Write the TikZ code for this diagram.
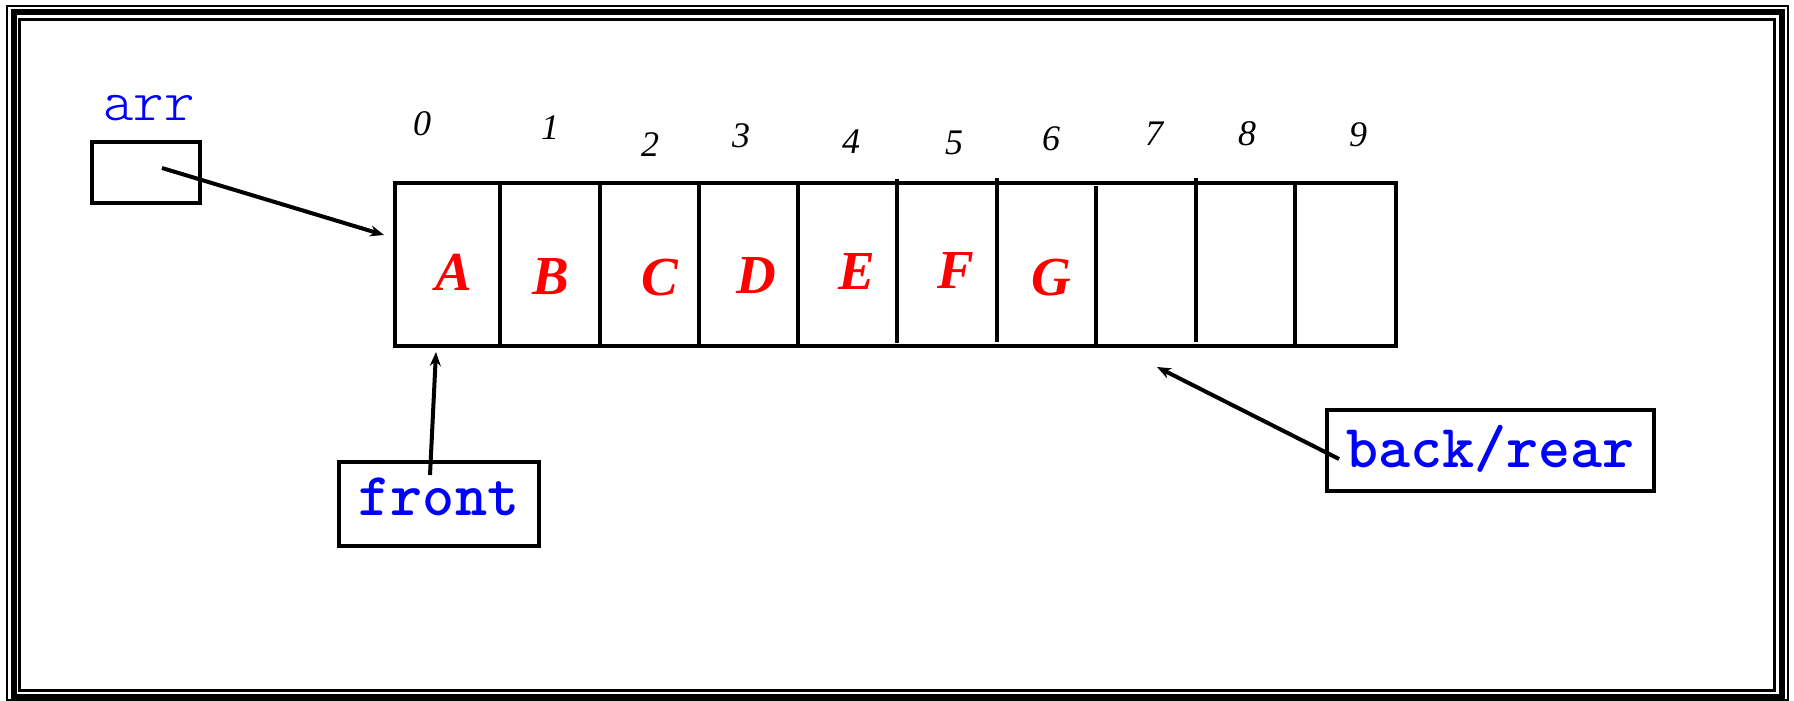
\documentclass[tikz,border=0pt]{standalone}
\usepackage{fontspec}
\newfontfamily\tnr{Liberation Serif}
\usetikzlibrary{arrows.meta}
\begin{document}
\begin{tikzpicture}[x=1pt,y=-1pt,
  box/.style={draw, line width=4pt, inner sep=0pt},
  idx/.style={font=\tnr\itshape\fontsize{36}{36}\selectfont, inner sep=0pt},
  letter/.style={font=\tnr\bfseries\itshape\fontsize{55}{55}\selectfont, text=red, inner sep=0pt},
  ptrlabel/.style={font=\ttfamily\bfseries\fontsize{61}{61}\selectfont, text=blue},
  ptr/.style={line width=4pt, -{Stealth[length=14pt,width=11pt]}},
  divider/.style={line width=3.5pt}]
\useasboundingbox (0,0) rectangle (1794,701);
% frame
\draw[line width=2pt] (7,6) rectangle (1788,700);
\draw[line width=6pt] (13.5,12) rectangle (1782,696.5);
\draw[line width=2.5pt] (19.5,19.5) rectangle (1774.5,690.5);
% arr pointer
\node (arrlabel) [anchor=base, font=\ttfamily\fontseries{l}\fontsize{58}{58}\selectfont, text=blue] at (149,120) {arr};
\node (arrbox) [box, minimum width=108, minimum height=61] at (146,172.5) {};
% array
\node (array) [box, minimum width=1001, minimum height=163] at (895.5,264.5) {};
\draw[divider] (500,185) -- (500,348);
\draw[divider] (600,181) -- (600,348);
\draw[divider] (699,181) -- (699,346);
\draw[divider] (798,181) -- (798,344);
\draw[divider] (897,179) -- (897,343);
\draw[divider] (997,178) -- (997,342);
\draw[divider] (1096,186) -- (1096,348);
\draw[divider] (1196,178) -- (1196,342);
\draw[divider] (1295,181) -- (1295,348);
% indices
\node (i0) [idx] at (422,124) {0};
\node (i1) [idx] at (550,128) {1};
\node (i2) [idx] at (650,145) {2};
\node (i3) [idx] at (741,136) {3};
\node (i4) [idx] at (851,142) {4};
\node (i5) [idx] at (954,143) {5};
\node (i6) [idx] at (1051,139) {6};
\node (i7) [idx] at (1154,134) {7};
\node (i8) [idx] at (1247,134) {8};
\node (i9) [idx] at (1358,135) {9};
% contents
\node (cA) [letter] at (454,272) {A};
\node (cB) [letter] at (551,277) {B};
\node (cC) [letter] at (660,278) {C};
\node (cD) [letter] at (756,276) {D};
\node (cE) [letter] at (857,271) {E};
\node (cF) [letter] at (956,270) {F};
\node (cG) [letter] at (1051,278) {G};
% front / back boxes
\node (frontbox) [box, ptrlabel, minimum width=200, minimum height=84, text height=22pt, text depth=0pt] at (439,504) {front};
\node (backbox) [box, ptrlabel, minimum width=327, minimum height=81, text height=33pt, text depth=0pt] at (1490.5,450.5) {back/rear};
% connectors
\coordinate (arrtail) at (162,168);
\coordinate (arrtip) at (384,235);
\coordinate (fronttail) at (430,475);
\coordinate (fronttip) at (436,352);
\coordinate (backtail) at (1339,459);
\coordinate (backtip) at (1157,367);
\draw[ptr] (arrtail) -- (arrtip);
\draw[ptr] (fronttail) -- (fronttip);
\draw[ptr] (backtail) -- (backtip);
\end{tikzpicture}
\end{document}
